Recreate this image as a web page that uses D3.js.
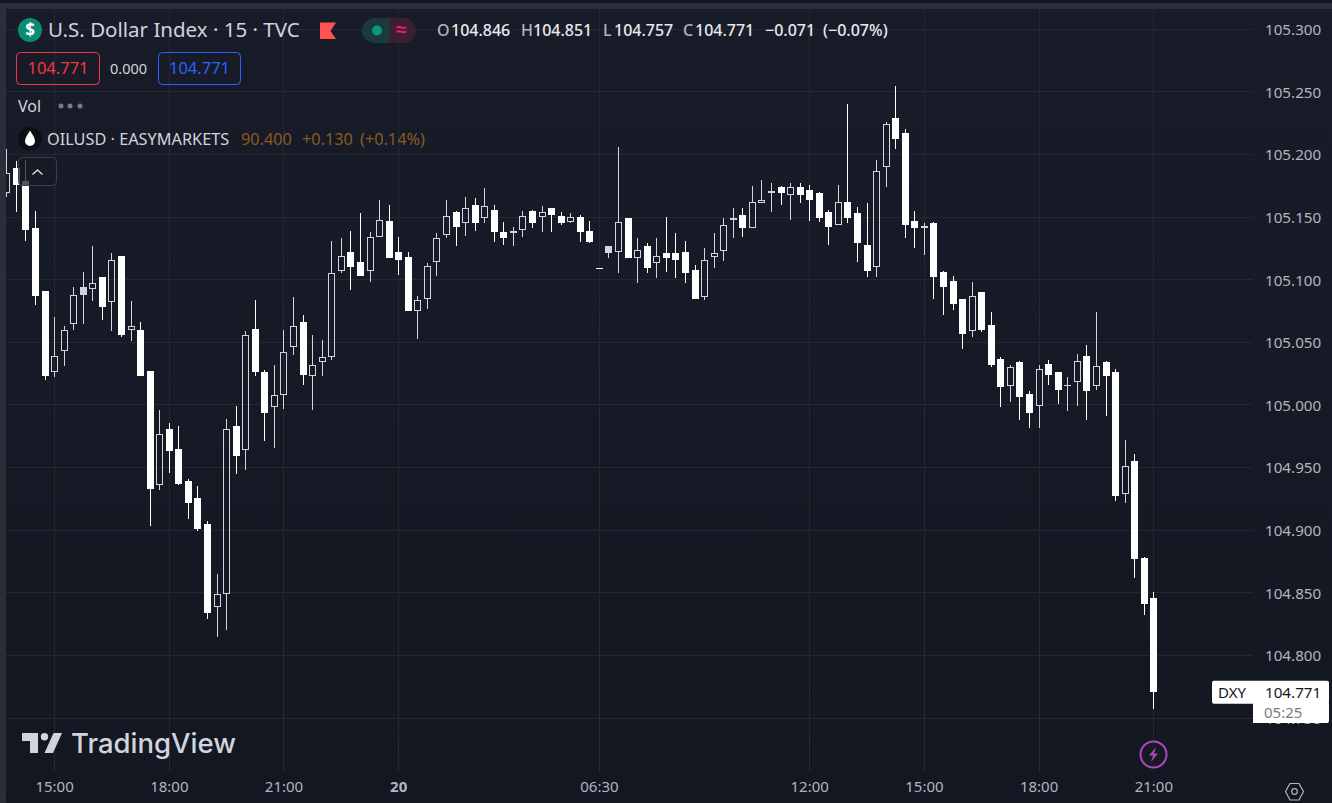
<!DOCTYPE html>
<html>
<head>
<meta charset="utf-8">
<title>DXY 15m</title>
<script src="https://cdnjs.cloudflare.com/ajax/libs/d3/7.8.5/d3.min.js"></script>
<style>
    html, body { margin: 0; padding: 0; background: #131722; overflow: hidden; }
    svg { display: block; font-family: "Noto Sans", sans-serif; }
</style>
</head>
<body>
<svg id="chart" width="1332" height="803"></svg>
<script>
// 15 minute bars, oldest first
var opens = [
    105.169, 105.189, 105.179, 105.141, 105.091, 105.026, 105.043, 105.065, 105.094, 105.093,
    105.102, 105.082, 105.119, 105.060, 105.060, 105.027, 104.936, 104.981, 104.965, 104.939,
    104.926, 104.905, 104.839, 104.849, 104.983, 104.964, 105.061, 105.026, 104.998, 105.008,
    105.046, 105.066, 105.023, 105.034, 105.038, 105.107, 105.122, 105.114, 105.107, 105.134,
    105.147, 105.122, 105.118, 105.075, 105.085, 105.114, 105.136, 105.154, 105.145, 105.160,
    105.149, 105.156, 105.138, 105.139, 105.140, 105.155, 105.150, 105.157, 105.151, 105.146,
    105.150, 105.139, 105.109, 105.127, 105.122, 105.149, 105.117, 105.127, 105.113, 105.121,
    105.121, 105.122, 105.108, 105.086, 105.118, 105.123, 105.149, 105.152, 105.141, 105.161,
    105.169, 105.174, 105.168, 105.174, 105.172, 105.169, 105.154, 105.144, 105.162, 105.153,
    105.128, 105.110, 105.190, 105.229, 105.217, 105.147, 105.143, 105.145, 105.106, 105.099,
    105.085, 105.059, 105.090, 105.064, 105.037, 105.015, 105.034, 105.009, 104.999, 105.033,
    105.026, 105.016, 105.018, 105.039, 105.015, 105.034, 105.026, 104.929, 104.955, 104.878,
    104.846
];
var highs = [
    105.204, 105.195, 105.196, 105.155, 105.091, 105.070, 105.063, 105.094, 105.106, 105.127,
    105.102, 105.121, 105.119, 105.083, 105.066, 105.027, 104.996, 104.986, 104.983, 104.941,
    104.935, 104.907, 104.865, 104.989, 104.999, 105.059, 105.084, 105.028, 105.032, 105.060,
    105.086, 105.072, 105.056, 105.052, 105.131, 105.133, 105.139, 105.153, 105.138, 105.164,
    105.160, 105.134, 105.122, 105.087, 105.113, 105.137, 105.164, 105.155, 105.166, 105.165,
    105.173, 105.160, 105.146, 105.142, 105.155, 105.156, 105.159, 105.157, 105.154, 105.153,
    105.152, 105.147, 105.109, 105.127, 105.206, 105.149, 105.133, 105.129, 105.133, 105.150,
    105.137, 105.131, 105.112, 105.125, 105.137, 105.149, 105.157, 105.157, 105.175, 105.180,
    105.177, 105.175, 105.177, 105.177, 105.176, 105.170, 105.156, 105.176, 105.240, 105.158,
    105.161, 105.196, 105.226, 105.255, 105.220, 105.155, 105.145, 105.146, 105.107, 105.103,
    105.085, 105.098, 105.090, 105.074, 105.038, 105.032, 105.035, 105.011, 105.032, 105.036,
    105.026, 105.022, 105.041, 105.048, 105.074, 105.035, 105.029, 104.972, 104.961, 104.879,
    104.851
];
var lows = [
    105.166, 105.154, 105.131, 105.080, 105.020, 105.022, 105.031, 105.060, 105.065, 105.083,
    105.068, 105.059, 105.054, 105.051, 105.023, 104.903, 104.932, 104.946, 104.936, 104.909,
    104.899, 104.829, 104.815, 104.820, 104.945, 104.948, 105.023, 104.971, 104.966, 104.997,
    105.040, 105.016, 104.996, 105.023, 105.036, 105.105, 105.092, 105.103, 105.098, 105.134,
    105.117, 105.104, 105.075, 105.053, 105.077, 105.103, 105.133, 105.127, 105.135, 105.139,
    105.145, 105.130, 105.128, 105.127, 105.134, 105.141, 105.138, 105.138, 105.144, 105.145,
    105.130, 105.129, 105.109, 105.117, 105.105, 105.117, 105.097, 105.105, 105.101, 105.106,
    105.101, 105.097, 105.085, 105.084, 105.109, 105.115, 105.133, 105.134, 105.141, 105.161,
    105.154, 105.160, 105.148, 105.161, 105.147, 105.146, 105.128, 105.144, 105.145, 105.114,
    105.102, 105.102, 105.174, 105.204, 105.133, 105.125, 105.120, 105.085, 105.072, 105.076,
    105.045, 105.054, 105.058, 105.030, 104.998, 105.002, 104.988, 104.982, 104.982, 105.016,
    105.001, 104.995, 104.999, 104.988, 105.012, 104.991, 104.923, 104.922, 104.862, 104.832,
    104.757
];
var closes = [
    105.185, 105.176, 105.140, 105.087, 105.023, 105.039, 105.060, 105.088, 105.088, 105.097,
    105.078, 105.116, 105.056, 105.063, 105.023, 104.933, 104.977, 104.963, 104.937, 104.922,
    104.901, 104.834, 104.849, 104.981, 104.959, 105.056, 105.026, 104.994, 105.008, 105.042,
    105.063, 105.024, 105.032, 105.038, 105.105, 105.119, 105.110, 105.103, 105.134, 105.148,
    105.117, 105.116, 105.075, 105.084, 105.111, 105.133, 105.151, 105.142, 105.157, 105.145,
    105.159, 105.138, 105.133, 105.137, 105.151, 105.145, 105.154, 105.152, 105.145, 105.150,
    105.138, 105.130, 105.109, 105.121, 105.146, 105.117, 105.124, 105.109, 105.119, 105.117,
    105.116, 105.105, 105.085, 105.116, 105.121, 105.144, 105.148, 105.141, 105.162, 105.164,
    105.171, 105.169, 105.174, 105.168, 105.164, 105.149, 105.142, 105.162, 105.149, 105.129,
    105.107, 105.187, 105.224, 105.212, 105.144, 105.141, 105.141, 105.102, 105.094, 105.081,
    105.057, 105.087, 105.060, 105.032, 105.014, 105.030, 105.006, 104.994, 105.029, 105.024,
    105.012, 105.016, 105.035, 105.011, 105.031, 105.023, 104.927, 104.951, 104.877, 104.841,
    104.771
];

// axis labels
var priceTicks = [105.3, 105.25, 105.2, 105.15, 105.1, 105.05, 105, 104.95, 104.9, 104.85, 104.8, 104.75];
var timeBars = [5, 17, 29, 41, 62, 84, 96, 108, 120];
var timeLabels = ['15:00', '18:00', '21:00', '20', '06:30', '12:00', '15:00', '18:00', '21:00'];

var width = 1332;
var height = 803;
var plotRight = 1253;
var plotBottom = 772;

var svg = d3.select('#chart');

var x = d3.scaleLinear().domain([5, 120]).range([54.1, 1153.3]);
var y = d3.scaleLinear().domain([104.75, 105.3]).range([718.1, 29.25]);

var defs = svg.append('defs');
var grad = defs.append('linearGradient').attr('id', 'panelBg').attr('x1', 0).attr('y1', 0).attr('x2', 0).attr('y2', 1);
grad.append('stop').attr('offset', '0%').attr('stop-color', '#181c28');
grad.append('stop').attr('offset', '100%').attr('stop-color', '#131722');
defs.append('clipPath').attr('id', 'plotClip')
    .append('rect').attr('x', 6).attr('y', 9).attr('width', plotRight - 6).attr('height', plotBottom - 9);

// page frame, panel has a small rounded corner
svg.append('rect').attr('width', width).attr('height', height).attr('fill', '#131722');
svg.append('rect').attr('y', 3).attr('width', width).attr('height', 6).attr('fill', '#2a2e39');
svg.append('rect').attr('y', 3).attr('width', 6).attr('height', height).attr('fill', '#2a2e39');
svg.append('rect').attr('x', 6).attr('y', 9).attr('width', width).attr('height', height).attr('rx', 4)
    .attr('fill', 'url(#panelBg)');

// Grid
var grid = svg.append('g').attr('stroke', '#242833').attr('stroke-width', 1);
grid.selectAll('.h').data(priceTicks).enter().append('line')
    .attr('x1', 6).attr('x2', plotRight)
    .attr('y1', d => Math.floor(y(d)) + 0.5).attr('y2', d => Math.floor(y(d)) + 0.5);
grid.selectAll('.v').data(timeBars).enter().append('line')
    .attr('y1', 9).attr('y2', plotBottom)
    .attr('x1', d => Math.round(x(d)) + 0.5).attr('x2', d => Math.round(x(d)) + 0.5);

// Axes
var priceAxis = svg.append('g')
    .attr('transform', 'translate(1265,0.5)')
    .call(d3.axisRight(y).tickValues(priceTicks).tickFormat(d3.format('.3f')).tickSize(0).tickPadding(0));
priceAxis.select('.domain').remove();
priceAxis.selectAll('text').attr('fill', '#b2b5be').style('font-size', '15.2px').style('font-family', '"Noto Sans", sans-serif');

var timeAxis = svg.append('g')
    .attr('transform', 'translate(0,781)')
    .call(d3.axisBottom(x).tickValues(timeBars).tickFormat((d, i) => timeLabels[i]).tickSize(0).tickPadding(0));
timeAxis.select('.domain').remove();
timeAxis.selectAll('text').attr('fill', '#b2b5be').style('font-size', '15px').style('font-family', '"Noto Sans", sans-serif')
    .style('font-weight', (d, i) => timeLabels[i] === '20' ? 700 : 400);

// Candles
var bars = opens.map(function (o, i) {
    return { i: i, o: o, h: highs[i], l: lows[i], c: closes[i], prev: i > 0 ? closes[i - 1] : o };
});
var candleColor = d => d.c >= d.prev ? '#d1d4dc' : '#ffffff';
var candles = svg.append('g').attr('clip-path', 'url(#plotClip)')
    .selectAll('.candle').data(bars).enter().append('g').attr('class', 'candle');

// wick stops at the body, so the grid shows through hollow candles
candles.append('path')
    .attr('d', function (d) {
        var cx = Math.round(x(d.i)) + 0.5;
        var top = Math.round(y(Math.max(d.o, d.c)));
        var bottom = Math.round(y(Math.min(d.o, d.c)));
        return 'M' + cx + ',' + Math.round(y(d.h)) + 'V' + top + 'M' + cx + ',' + bottom + 'V' + Math.round(y(d.l));
    })
    .attr('fill', 'none')
    .attr('stroke', candleColor);

candles.append('rect')
    .each(function (d) {
        var top = Math.round(y(Math.max(d.o, d.c)));
        var bottom = Math.round(y(Math.min(d.o, d.c)));
        var el = d3.select(this);
        if (d.c > d.o) {
            // hollow body, stroke stays inside the 7px width
            el.attr('x', Math.round(x(d.i)) - 2.5).attr('width', 6)
                .attr('y', top + 0.5).attr('height', Math.max(1, bottom - top - 1))
                .attr('fill', 'none').attr('stroke', candleColor(d));
        } else {
            el.attr('x', Math.round(x(d.i)) - 3).attr('width', 7)
                .attr('y', top).attr('height', Math.max(1, bottom - top))
                .attr('fill', candleColor(d));
        }
    });

// Legend, top left
function label(txt, px, py, size, color, weight, anchor) {
    return svg.append('text').attr('x', px).attr('y', py).text(txt)
        .attr('fill', color).style('font-size', size + 'px').style('font-weight', weight || 400)
        .attr('text-anchor', anchor || 'start');
}

svg.append('circle').attr('cx', 30).attr('cy', 30).attr('r', 12).attr('fill', '#0b8a74');
label('$', 30, 36, 17, '#ffffff', 700, 'middle');
label('U.S. Dollar Index · 15 · TVC', 48, 37, 20.5, '#d1d4dc');
svg.append('path').attr('d', 'M320,22.5H336L330.5,31L336,39H320Z').attr('fill', '#ff5252');

svg.append('path').attr('d', 'M389,18H374.5A12.5,12.5 0 0 0 374.5,43H389Z').attr('fill', '#1b3a40');
svg.append('path').attr('d', 'M389,18H403.5A12.5,12.5 0 0 1 403.5,43H389Z').attr('fill', '#3d1f33');
svg.append('circle').attr('cx', 377).attr('cy', 30.5).attr('r', 5).attr('fill', '#089981');
label('≈', 401, 36, 19, '#e91e63', 700, 'middle');

var ohlcLetters = [['O', 437], ['H', 521], ['L', 603], ['C', 683]];
var ohlcValues = [['104.846', 451], ['104.851', 533], ['104.757', 614], ['104.771', 695], ['−0.071', 765], ['(−0.07%)', 823]];
ohlcLetters.forEach(d => label(d[0], d[1], 36, 16, '#b2b5be', 500));
ohlcValues.forEach(d => label(d[0], d[1], 36, 16, '#e8e9ee', 500));

svg.append('rect').attr('x', 16.5).attr('y', 52.5).attr('width', 83).attr('height', 32).attr('rx', 4)
    .attr('fill', 'none').attr('stroke', '#f23645');
label('104.771', 58, 74, 16.5, '#f23645', 400, 'middle');
label('0.000', 128.5, 74, 14.5, '#d1d4dc', 400, 'middle');
svg.append('rect').attr('x', 158.5).attr('y', 52.5).attr('width', 82).attr('height', 32).attr('rx', 4)
    .attr('fill', 'none').attr('stroke', '#2962ff');
label('104.771', 199.5, 74, 16.5, '#2962ff', 400, 'middle');

label('Vol', 18, 112, 16, '#d1d4dc');
svg.selectAll('.dot').data([61, 70, 80]).enter().append('circle')
    .attr('cx', d => d).attr('cy', 106).attr('r', 2.5).attr('fill', '#787b86');

svg.append('circle').attr('cx', 30).attr('cy', 139).attr('r', 12).attr('fill', '#0c0f16');
svg.append('path').attr('d', 'M30,130.5C32,134 35,137.5 35,141A5,5 0 0 1 25,141C25,137.5 28,134 30,130.5Z').attr('fill', '#ffffff');
label('OILUSD · EASYMARKETS', 47, 145, 16.3, '#d1d4dc');
label('90.400', 241, 145, 16.3, '#8a5a24');
label('+0.130', 302, 145, 16.3, '#8a5a24');
label('(+0.14%)', 360, 145, 16.3, '#8a5a24');

svg.append('rect').attr('x', 18.5).attr('y', 157.5).attr('width', 38).attr('height', 28).attr('rx', 4)
    .attr('fill', 'rgba(23,27,38,0.75)').attr('stroke', '#3a3e4a');
svg.append('path').attr('d', 'M32.5,174.5L37.5,170L42.5,174.5').attr('fill', 'none').attr('stroke', '#d1d4dc').attr('stroke-width', 1.5);

// Watermark
svg.append('path').attr('d', 'M22,733H38V753H30V741H22ZM53.5,733H62L53,753H44.5Z').attr('fill', '#d1d4dc');
svg.append('circle').attr('cx', 44.5).attr('cy', 736.7).attr('r', 3.7).attr('fill', '#d1d4dc');
label('TradingView', 71, 753, 27.5, '#d1d4dc', 500).style('font-family', 'Inter');

// Last price tag, covers the 104.750 label
var lastPrice = closes[closes.length - 1];
var tagY = y(lastPrice);
svg.append('path').attr('d', 'M1253,703V723H1327A2,2 0 0 0 1329,721V703Z').attr('fill', '#ffffff');
svg.append('rect').attr('x', 1212).attr('y', tagY - 11).attr('width', 117).attr('height', 23).attr('rx', 2).attr('fill', '#ffffff');
label('DXY', 1218, tagY + 6, 15, '#131722');
label(d3.format('.3f')(lastPrice), 1265, tagY + 6, 15.2, '#131722');
label('05:25', 1264, 718, 15, '#787b86');

// Bolt marker and settings hexagon
svg.append('circle').attr('cx', 1153.5).attr('cy', 754.5).attr('r', 13).attr('fill', '#161a25').attr('stroke', '#ab47bc').attr('stroke-width', 2);
svg.append('path').attr('d', 'M1156,747L1149,755.5H1153L1151,762L1158,753.5H1154Z').attr('fill', '#ab47bc');
svg.append('path').attr('d', 'M1285.5,791.5L1290,783.5H1299L1303.5,791.5L1299,800H1290Z').attr('fill', 'none').attr('stroke', '#b2b5be').attr('stroke-width', 1.2);
svg.append('circle').attr('cx', 1294.5).attr('cy', 791.5).attr('r', 2.8).attr('fill', 'none').attr('stroke', '#b2b5be').attr('stroke-width', 1.2);
</script>
</body>
</html>
